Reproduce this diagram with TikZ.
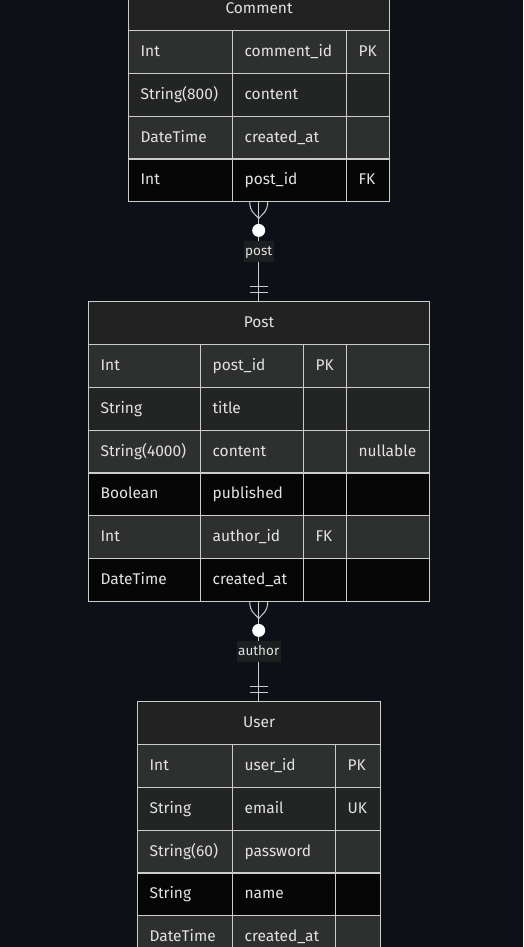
\documentclass[tikz,border=0pt]{standalone}
\usepackage{fontspec}
\setmainfont{Fira Sans}
\usetikzlibrary{calc}
\definecolor{bg}{HTML}{0D1017}
\definecolor{rowA}{HTML}{2E2F2F}
\definecolor{rowB}{HTML}{232424}
\definecolor{rowC}{HTML}{060606}
\definecolor{hdr}{HTML}{212221}
\definecolor{edgec}{HTML}{CCCCCC}
\definecolor{txt}{HTML}{E2E2E2}
\definecolor{lblbg}{HTML}{1C1E20}
\tikzset{
  cellbox/.style={draw=edgec, line width=1.2pt, anchor=north west, inner xsep=12pt, inner ysep=0pt,
    align=left, text=txt, font=\fontsize{15.5}{17}\selectfont, rectangle,
    text height=1.0em, text depth=0.1em},
  hdrbox/.style={draw=edgec, line width=1.2pt, anchor=north west, fill=hdr, text=txt,
    font=\fontsize{15.5}{17}\selectfont, inner sep=0pt, rectangle,
    text height=1.0em, text depth=0.1em},
  tablebox/.style={anchor=north west, inner sep=0pt, draw=none, rectangle},
  rel/.style={draw=edgec, line width=1pt},
  zerodot/.style={circle, fill=white, minimum size=13pt, inner sep=0pt},
  lbl/.style={fill=lblbg, text=txt, font=\fontsize{13.5}{15}\selectfont, inner xsep=1.5pt, inner ysep=0pt,
    minimum height=21pt, text height=1.0em, text depth=0.1em}
}
\newcommand\erCell[7]{%
  \pgfmathsetmacro\ertw{#4-24}%
  \node[cellbox, fill=#6, minimum width=#4pt, minimum height=#5pt, text width=\ertw pt] (#1) at (#2,#3) {#7};}
\newcommand\erHead[6]{%
  \node[hdrbox, minimum width=#4pt, minimum height=#5pt] (#1) at (#2,#3) {#6};}
\begin{document}
\begin{tikzpicture}[x=1pt,y=-1pt]
\useasboundingbox (0,0) rectangle (523,947);
\clip (0,0) rectangle (523,947);
\fill[bg] (0,0) rectangle (523,947);

% ---------- Comment ----------
\node[tablebox, minimum width=261pt, minimum height=214pt] (comment) at (128,-13) {};
\erHead{cH}{128}{-13}{261}{43}{Comment}
\erCell{c11}{128}{30}{104}{42.8}{rowA}{Int}
\erCell{c12}{232}{30}{114}{42.8}{rowA}{comment\_id}
\erCell{c13}{346}{30}{43}{42.8}{rowA}{PK}
\erCell{c21}{128}{72.8}{104}{42.8}{rowB}{String(800)}
\erCell{c22}{232}{72.8}{114}{42.8}{rowB}{content}
\erCell{c23}{346}{72.8}{43}{42.8}{rowB}{}
\erCell{c31}{128}{115.6}{104}{42.8}{rowA}{DateTime}
\erCell{c32}{232}{115.6}{114}{42.8}{rowA}{created\_at}
\erCell{c33}{346}{115.6}{43}{42.8}{rowA}{}
\erCell{c41}{128}{158.4}{104}{42.8}{rowC}{Int}
\erCell{c42}{232}{158.4}{114}{42.8}{rowC}{post\_id}
\erCell{c43}{346}{158.4}{43}{42.8}{rowC}{FK}

% ---------- Post ----------
\node[tablebox, minimum width=341pt, minimum height=300pt] (post) at (88,301) {};
\erHead{pH}{88}{301}{341}{43}{Post}
\erCell{p11}{88}{344}{112}{42.8}{rowA}{Int}
\erCell{p12}{200}{344}{103}{42.8}{rowA}{post\_id}
\erCell{p13}{303}{344}{43}{42.8}{rowA}{PK}
\erCell{p14}{346}{344}{83}{42.8}{rowA}{}
\erCell{p21}{88}{386.8}{112}{42.8}{rowB}{String}
\erCell{p22}{200}{386.8}{103}{42.8}{rowB}{title}
\erCell{p23}{303}{386.8}{43}{42.8}{rowB}{}
\erCell{p24}{346}{386.8}{83}{42.8}{rowB}{}
\erCell{p31}{88}{429.6}{112}{42.8}{rowA}{String(4000)}
\erCell{p32}{200}{429.6}{103}{42.8}{rowA}{content}
\erCell{p33}{303}{429.6}{43}{42.8}{rowA}{}
\erCell{p34}{346}{429.6}{83}{42.8}{rowA}{nullable}
\erCell{p41}{88}{472.4}{112}{42.8}{rowC}{Boolean}
\erCell{p42}{200}{472.4}{103}{42.8}{rowC}{published}
\erCell{p43}{303}{472.4}{43}{42.8}{rowC}{}
\erCell{p44}{346}{472.4}{83}{42.8}{rowC}{}
\erCell{p51}{88}{515.2}{112}{42.8}{rowA}{Int}
\erCell{p52}{200}{515.2}{103}{42.8}{rowA}{author\_id}
\erCell{p53}{303}{515.2}{43}{42.8}{rowA}{FK}
\erCell{p54}{346}{515.2}{83}{42.8}{rowA}{}
\erCell{p61}{88}{558}{112}{42.8}{rowC}{DateTime}
\erCell{p62}{200}{558}{103}{42.8}{rowC}{created\_at}
\erCell{p63}{303}{558}{43}{42.8}{rowC}{}
\erCell{p64}{346}{558}{83}{42.8}{rowC}{}

% ---------- User ----------
\node[tablebox, minimum width=243pt, minimum height=257pt] (user) at (137,701) {};
\erHead{uH}{137}{701}{243}{43}{User}
\erCell{u11}{137}{744}{95}{42.8}{rowA}{Int}
\erCell{u12}{232}{744}{103}{42.8}{rowA}{user\_id}
\erCell{u13}{335}{744}{45}{42.8}{rowA}{PK}
\erCell{u21}{137}{786.8}{95}{42.8}{rowB}{String}
\erCell{u22}{232}{786.8}{103}{42.8}{rowB}{email}
\erCell{u23}{335}{786.8}{45}{42.8}{rowB}{UK}
\erCell{u31}{137}{829.6}{95}{42.8}{rowA}{String(60)}
\erCell{u32}{232}{829.6}{103}{42.8}{rowA}{password}
\erCell{u33}{335}{829.6}{45}{42.8}{rowA}{}
\erCell{u41}{137}{872.4}{95}{42.8}{rowC}{String}
\erCell{u42}{232}{872.4}{103}{42.8}{rowC}{name}
\erCell{u43}{335}{872.4}{45}{42.8}{rowC}{}
\erCell{u51}{137}{915.2}{95}{42.8}{rowA}{DateTime}
\erCell{u52}{232}{915.2}{103}{42.8}{rowA}{created\_at}
\erCell{u53}{335}{915.2}{45}{42.8}{rowA}{}

% ---------- Relation Comment -> Post ----------
\draw[rel] (comment.south) -- (post.north);
\draw[rel] ($(comment.south)+(-9,0)$) .. controls +(0,11) and +(-3,-4) .. ($(comment.south)+(0,17)$)
  .. controls +(3,-4) and +(0,11) .. ($(comment.south)+(9,0)$);
\node[zerodot] (z1) at ($(comment.south)+(0,29)$) {};
\draw[rel] ($(post.north)+(-9,-9)$) -- ++(18,0);
\draw[rel] ($(post.north)+(-9,-15)$) -- ++(18,0);
\node[lbl] (l1) at ($(comment.south)!0.5!(post.north)$) {post};

% ---------- Relation Post -> User ----------
\draw[rel] (post.south) -- (user.north);
\draw[rel] ($(post.south)+(-9,0)$) .. controls +(0,11) and +(-3,-4) .. ($(post.south)+(0,17)$)
  .. controls +(3,-4) and +(0,11) .. ($(post.south)+(9,0)$);
\node[zerodot] (z2) at ($(post.south)+(0,29)$) {};
\draw[rel] ($(user.north)+(-9,-9)$) -- ++(18,0);
\draw[rel] ($(user.north)+(-9,-15)$) -- ++(18,0);
\node[lbl] (l2) at ($(post.south)!0.5!(user.north)$) {author};
\end{tikzpicture}
\end{document}
